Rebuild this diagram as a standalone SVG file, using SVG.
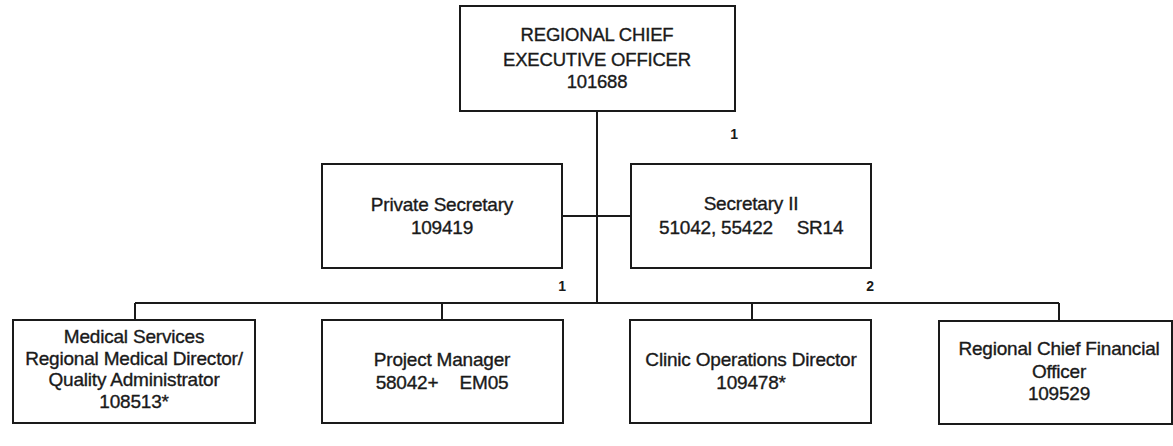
<svg xmlns="http://www.w3.org/2000/svg" width="1173" height="446" viewBox="0 0 1173 446">
<style>
.box{fill:#fff;stroke:#1a1a1a;stroke-width:2}
.ln{stroke:#1a1a1a;stroke-width:2;fill:none}
text{font-family:"Liberation Sans",Arial,sans-serif;fill:#1a1a1a;stroke:#1a1a1a;stroke-width:0.35;text-anchor:middle;letter-spacing:-0.2px}
.t{font-size:19px}
.tt{font-size:18.5px}
.n{font-size:14px;font-weight:bold;stroke-width:0}
</style>
<rect width="1173" height="446" fill="#fff"/>
<g id="connectors">
<line class="ln" x1="597" y1="111" x2="597" y2="303"/>
<line class="ln" x1="562" y1="216" x2="631" y2="216"/>
<line class="ln" x1="135" y1="303" x2="1059" y2="303"/>
<line class="ln" x1="135" y1="303" x2="135" y2="320"/>
<line class="ln" x1="442" y1="303" x2="442" y2="320"/>
<line class="ln" x1="752" y1="303" x2="752" y2="320"/>
<line class="ln" x1="1059" y1="303" x2="1059" y2="321"/>
<text class="n" x="734" y="139">1</text>
<text class="n" x="562" y="291">1</text>
<text class="n" x="870" y="291">2</text>
</g>
<g id="ceo">
<rect class="box" x="460" y="6" width="275" height="105"/>
<text class="tt" x="597" y="41">REGIONAL CHIEF</text>
<text class="tt" x="597" y="66">EXECUTIVE OFFICER</text>
<text class="tt" x="597" y="88">101688</text>
</g>
<g id="private-secretary">
<rect class="box" x="322" y="164" width="240" height="104"/>
<text class="t" x="442" y="211">Private Secretary</text>
<text class="t" x="442" y="234">109419</text>
</g>
<g id="secretary-ii">
<rect class="box" x="631" y="164" width="240" height="104"/>
<text class="t" x="751" y="210">Secretary II</text>
<text class="t" y="234"><tspan x="716">51042, 55422</tspan><tspan x="820">SR14</tspan></text>
</g>
<g id="medical-services">
<rect class="box" x="13" y="320" width="242" height="103"/>
<text class="t" x="134" y="343">Medical Services</text>
<text class="t" x="134" y="365">Regional Medical Director/</text>
<text class="t" x="134" y="386">Quality Administrator</text>
<text class="t" x="134" y="408">108513*</text>
</g>
<g id="project-manager">
<rect class="box" x="322" y="320" width="241" height="103"/>
<text class="t" x="442" y="366">Project Manager</text>
<text class="t" y="389"><tspan x="407">58042+</tspan><tspan x="484">EM05</tspan></text>
</g>
<g id="clinic-operations">
<rect class="box" x="630" y="320" width="241" height="103"/>
<text class="t" x="751" y="366">Clinic Operations Director</text>
<text class="t" x="751" y="389">109478*</text>
</g>
<g id="cfo">
<rect class="box" x="939" y="321" width="233" height="103"/>
<text class="t" x="1059" y="355">Regional Chief Financial</text>
<text class="t" x="1059" y="378">Officer</text>
<text class="t" x="1059" y="400">109529</text>
</g>
</svg>
